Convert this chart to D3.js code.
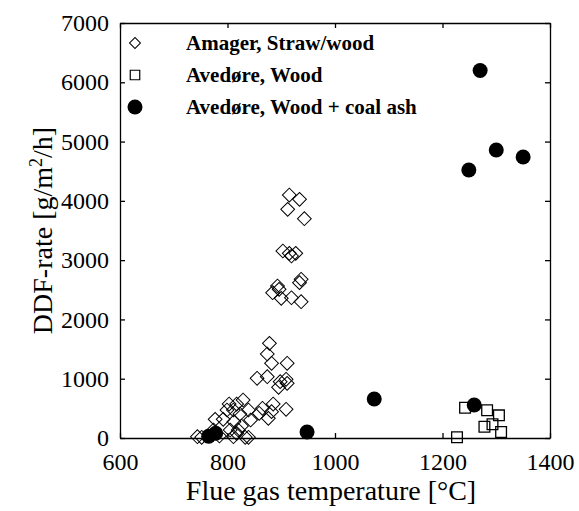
<!DOCTYPE html>
<html><head><meta charset="utf-8">
<script src="https://cdn.jsdelivr.net/npm/d3@7"></script>
<style>body{margin:0;background:#fff}svg{display:block}text{font-family:"Liberation Serif","Times New Roman",serif}</style>
</head><body><svg id="c" width="579" height="511"></svg>
<script>
const xTicks = [600, 800, 1000, 1200, 1400];
const yTicks = [0, 1000, 2000, 3000, 4000, 5000, 6000, 7000];
const seriesNames = ["Amager, Straw/wood", "Avedøre, Wood", "Avedøre, Wood + coal ash"];
const amagerT = [915,934,912,943,903,915,927,919,937,934,893,896,884,900,919,937,878,874,882,911,855,874,898,909,895,911,909,885,882,865,859,876,829,817,803,811,799,839,823,843,777,792,812,826,805,817,833,839,744,752,785,774,811,820];
const amagerR = [4098,4026,3857,3699,3154,3115,3115,3070,2677,2620,2564,2508,2451,2356,2366,2299,1597,1417,1260,1260,1007,1034,950,990,855,922,484,573,444,501,417,332,641,573,573,472,472,472,405,304,315,315,275,202,135,79,12,12,22,12,34,135,22,135];
const woodT = [1227,1242,1283,1305,1278,1293,1309];
const woodR = [12,511,467,382,191,231,101];
const ashT = [1270,1249,1300,1350,1073,1259,948,765,778];
const ashR = [6200,4520,4857,4739,658,556,101,30,80];

const svg = d3.select("#c");
const L = 120, R = 550, T = 23, B = 438;
const x = d3.scaleLinear().domain([600, 1400]).range([L, R]);
const y = d3.scaleLinear().domain([0, 7000]).range([B, T]);
const fmt = d3.format("d");
const SERIF = "Liberation Serif, Times New Roman, serif";

const g = svg.append("g");
const bx = g.append("g").attr("transform", `translate(0,${B})`).call(d3.axisBottom(x).tickValues(xTicks).tickFormat(fmt).tickSizeInner(-5).tickSizeOuter(0).tickPadding(15));
const ly = g.append("g").attr("transform", `translate(${L},0)`).call(d3.axisLeft(y).tickValues(yTicks).tickFormat(fmt).tickSizeInner(-5).tickSizeOuter(0).tickPadding(11));
const tx = g.append("g").attr("transform", `translate(0,${T})`).call(d3.axisTop(x).tickValues(xTicks).tickSizeInner(-5).tickSizeOuter(0).tickFormat(""));
const ry = g.append("g").attr("transform", `translate(${R},0)`).call(d3.axisRight(y).tickValues(yTicks).tickSizeInner(-5).tickSizeOuter(0).tickFormat(""));
[bx, ly, tx, ry].forEach(a => {
  a.attr("font-family", SERIF).attr("font-size", 24);
  a.selectAll("path").attr("stroke", "#000").attr("stroke-width", 1.3);
  a.selectAll("line").attr("stroke", "#000").attr("stroke-width", 1.3);
  a.selectAll("text").attr("font-size", 24).attr("fill", "#000").attr("font-family", SERIF);
});
bx.selectAll("text").attr("dy", "0.71em");

const plot = g.append("g");
const diamond = d3.symbol().type(d3.symbolSquare).size(95);
plot.selectAll(".am").data(amagerT.map((t, i) => [t, amagerR[i]])).join("path")
  .attr("d", diamond)
  .attr("transform", d => `translate(${x(d[0])},${y(d[1])}) rotate(45)`)
  .attr("fill", "none").attr("stroke", "#000").attr("stroke-width", 1);
plot.selectAll(".wd").data(woodT.map((t, i) => [t, woodR[i]])).join("path")
  .attr("d", d3.symbol().type(d3.symbolSquare).size(115))
  .attr("transform", d => `translate(${x(d[0])},${y(d[1])})`)
  .attr("fill", "none").attr("stroke", "#000").attr("stroke-width", 1.3);
plot.selectAll(".as").data(ashT.map((t, i) => [t, ashR[i]])).join("circle")
  .attr("cx", d => x(d[0])).attr("cy", d => y(d[1])).attr("r", 7.5).attr("fill", "#000");

// legend
const lg = g.append("g");
const ly0 = 43, ldy = 32;
lg.append("path").attr("d", d3.symbol().type(d3.symbolSquare).size(60)).attr("transform", `translate(135,${ly0}) rotate(45)`).attr("fill", "none").attr("stroke", "#000");
lg.append("path").attr("d", d3.symbol().type(d3.symbolSquare).size(90)).attr("transform", `translate(135,${ly0 + ldy})`).attr("fill", "none").attr("stroke", "#000").attr("stroke-width", 1.2);
lg.append("circle").attr("cx", 135).attr("cy", ly0 + 2 * ldy).attr("r", 7.5).attr("fill", "#000");
lg.selectAll("text").data(seriesNames).join("text")
  .attr("x", 186).attr("y", (d, i) => ly0 + i * ldy).attr("dy", "0.35em")
  .attr("font-family", SERIF).attr("font-size", 21).attr("font-weight", "bold").text(d => d);

// axis titles
g.append("text").attr("x", 331).attr("y", 500).attr("text-anchor", "middle").attr("font-family", SERIF).attr("font-size", 28).text("Flue gas temperature [°C]");
const yl = g.append("text").attr("transform", `translate(52,${(T + B) / 2}) rotate(-90)`).attr("text-anchor", "middle").attr("font-family", SERIF).attr("font-size", 28);
yl.append("tspan").text("DDF-rate [g/m");
yl.append("tspan").attr("font-size", 18).attr("dy", -10).text("2");
yl.append("tspan").attr("dy", 10).text("/h]");
</script></body></html>
